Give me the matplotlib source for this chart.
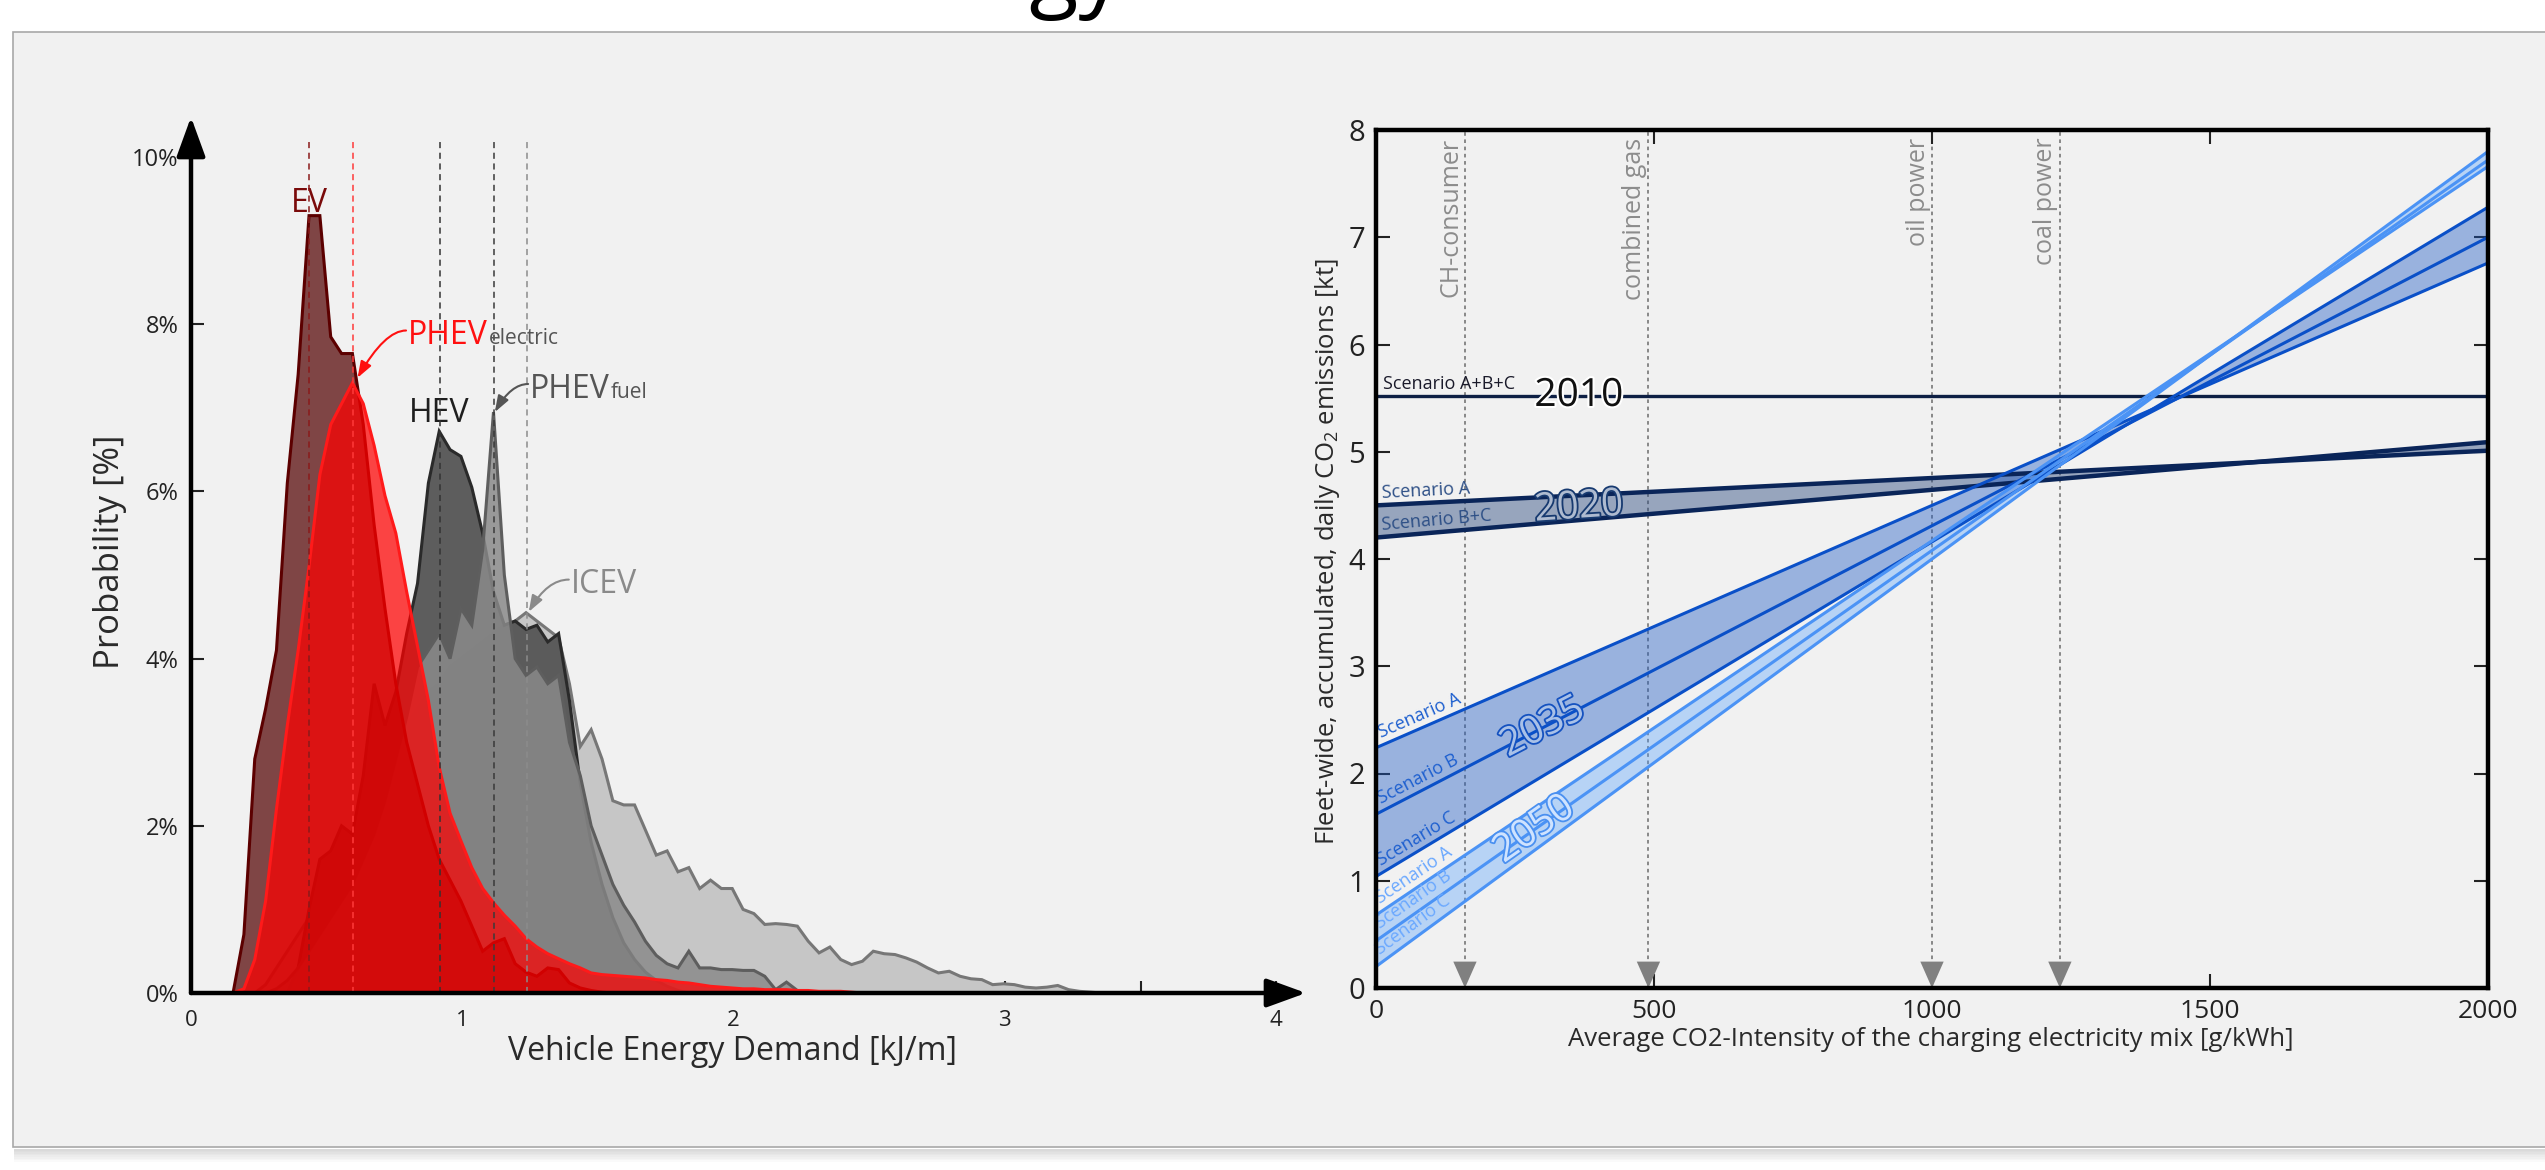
import numpy as np
import matplotlib

matplotlib.use("Agg")
import matplotlib.pyplot as plt
from matplotlib import patheffects as pe
from matplotlib.patches import Rectangle

plt.rcParams['font.family'] = ['Open Sans', 'DejaVu Sans']
plt.rcParams['mathtext.fontset'] = 'custom'
plt.rcParams['mathtext.rm'] = 'Open Sans'
plt.rcParams['mathtext.it'] = 'Open Sans:italic'

# ---------------- left panel: vehicle energy demand histograms ----------------
# share of vehicles [%] per 0.04 kJ/m bin; each list starts at the given bin centre
BIN0, BIN_W = 0.035, 0.04
ev_start = 0.155
ev_pct = [0.0, 0.7, 2.8, 3.4, 4.1, 6.1, 7.4, 9.3, 9.3, 7.85, 7.65, 7.65, 6.8, 5.6,
          4.6, 3.7, 3.0, 2.5, 2.0, 1.6, 1.35, 1.1, 0.8, 0.5, 0.6, 0.65, 0.35, 0.25,
          0.2, 0.3, 0.28, 0.12, 0.06, 0.03, 0.01]
phev_e_start = 0.155
phev_e_pct = [0.0, 0.05, 0.4, 1.1, 2.2, 3.2, 4.1, 5.1, 6.2, 6.8, 7.05, 7.3, 7.05, 6.55,
              5.95, 5.5, 4.8, 4.15, 3.5, 2.7, 2.15, 1.82, 1.5, 1.25, 1.08, 0.93, 0.8,
              0.65, 0.55, 0.47, 0.41, 0.35, 0.3, 0.24, 0.22, 0.21, 0.2, 0.19, 0.18,
              0.16, 0.15, 0.13, 0.12, 0.1, 0.08, 0.07, 0.06, 0.05, 0.05, 0.04, 0.04,
              0.04, 0.03, 0.03, 0.02, 0.02, 0.02, 0.01]
hev_start = 0.355
hev_pct = [0.0, 0.3, 1.0, 1.6, 1.7, 2.0, 1.9, 2.6, 3.7, 3.2, 3.6, 4.3, 4.9, 6.1, 6.72,
           6.5, 6.42, 6.05, 5.5, 4.8, 4.4, 4.45, 4.35, 4.4, 4.2, 4.3, 3.5, 2.5, 1.8,
           1.3, 0.9, 0.6, 0.4, 0.25, 0.15, 0.08, 0.03, 0.0]
phev_f_start = 0.275
phev_f_pct = [0.0, 0.05, 0.15, 0.3, 0.5, 0.7, 0.9, 1.1, 1.3, 1.6, 1.9, 2.3, 2.8, 3.3,
              3.9, 4.1, 4.3, 4.0, 4.6, 4.4, 5.3, 6.95, 5.0, 4.0, 3.8, 3.9, 3.7, 3.8,
              3.0, 2.6, 2.0, 1.65, 1.3, 1.05, 0.85, 0.62, 0.45, 0.35, 0.3, 0.5, 0.3,
              0.3, 0.28, 0.28, 0.27, 0.27, 0.2, 0.04, 0.13, 0.03, 0.0]
icev_start = 0.235
icev_pct = [0.0, 0.1, 0.3, 0.5, 0.7, 0.9, 1.1, 1.3, 1.5, 1.7, 2.0, 2.3, 2.6, 2.9, 3.2,
            3.4, 3.6, 3.7, 3.9, 4.0, 4.1, 4.2, 4.3, 4.4, 4.45, 4.55, 4.45, 4.35, 4.25,
            3.7, 2.95, 3.15, 2.8, 2.3, 2.25, 2.25, 1.95, 1.65, 1.7, 1.45, 1.5, 1.25,
            1.35, 1.25, 1.25, 1.0, 0.95, 0.82, 0.83, 0.82, 0.8, 0.62, 0.48, 0.55,
            0.4, 0.34, 0.38, 0.5, 0.47, 0.46, 0.42, 0.37, 0.3, 0.24, 0.26, 0.2, 0.17,
            0.16, 0.1, 0.11, 0.1, 0.07, 0.06, 0.07, 0.09, 0.04, 0.02, 0.01, 0.0]
# modal energy demand of each vehicle type (dashed markers)
mode_x = [0.435, 0.597, 0.916, 1.118, 1.237]
mode_colors = ['#8a1a1a', '#ff3a3a', '#333333', '#3a3a3a', '#8c8c8c']

# ---------------- right panel: fleet CO2 vs charging-mix intensity ----------------
co2_x = [0, 2000]
y2010 = [5.52, 5.52]
y2020_a = [4.50, 5.01]
y2020_bc = [4.20, 5.09]
y2035_a = [2.24, 6.76]
y2035_b = [1.62, 7.00]
y2035_c = [1.04, 7.28]
y2050_a = [0.68, 7.66]
y2050_b = [0.44, 7.72]
y2050_c = [0.20, 7.80]
ref_x = [160, 490, 1000, 1230]
ref_labels = ['CH-consumer', 'combined gas', 'oil power', 'coal power']

W, H = 2545, 1170


def fx(px):
    return px / W


def fy(py):
    return 1 - py / H


def on_grid(bins, start, vals):
    i0 = int(round((start - BIN0) / BIN_W))
    y = np.zeros(len(bins))
    y[i0:i0 + len(vals)] = vals
    return y


def screen_angle(ax, xs, ys):
    p = ax.transData.transform(np.column_stack([xs, ys]))
    return np.degrees(np.arctan2(p[1, 1] - p[0, 1], p[1, 0] - p[0, 0]))


def line_at(ys, x):
    return np.interp(x, co2_x, ys)


fig = plt.figure(figsize=(W / 100, H / 100), dpi=100, facecolor='white')
renderer = fig.canvas.get_renderer()

# grey card behind both charts, with a soft bottom shadow
fig.patches.append(Rectangle((fx(13), fy(1147)), 1.0, fy(32) - fy(1147),
                             transform=fig.transFigure, facecolor='#f1f1f1',
                             edgecolor='#a8a8a8', lw=1.2, zorder=-5))
for k in range(8):
    fig.patches.append(Rectangle((fx(14), fy(1149 + 1.6 * (k + 1))), 1.0, 1.6 / H,
                                 transform=fig.transFigure, facecolor='#7a7a7a',
                                 alpha=0.28 * (1 - k / 8), lw=0, zorder=-5))

# title sits above the top edge: only its descenders show
fig.text(fx(1255), fy(-1), 'Energy to Emissions', ha='center', va='baseline',
         fontsize=65, color='black')

# ======================= left chart =======================
axL = fig.add_axes([fx(191), fy(993), fx(1306) - fx(191), fy(117) - fy(993)])
axL.set_xlim(0, 4.11)
axL.set_ylim(0, 10.48)
axL.patch.set_alpha(0)
for s in axL.spines.values():
    s.set_visible(False)

bins = np.arange(BIN0, 4.0, BIN_W)
layers = [
    (icev_start, icev_pct, '#c6c6c6', 1.0, '#777777'),
    (hev_start, hev_pct, '#555555', 0.95, '#2a2a2a'),
    (phev_f_start, phev_f_pct, '#8a8a8a', 0.85, '#5e5e5e'),
    (ev_start, ev_pct, '#590c0c', 0.75, '#5c0000'),
    (phev_e_start, phev_e_pct, '#ff0000', 0.72, '#ff1a1a'),
]
for z, (start, vals, fc, a, ec) in enumerate(layers):
    y = on_grid(bins, start, vals)
    axL.fill_between(bins, 0, y, color=fc, alpha=a, lw=0, zorder=2 + z)
    axL.plot(bins, y, color=ec, lw=2.2, zorder=2 + z, solid_joinstyle='miter')

for xm, c in zip(mode_x, mode_colors):
    axL.plot([xm, xm], [0, 10.2], color=c, lw=1.1, dashes=(4, 3), zorder=10)

# axes with arrow heads
for xy in [(1, 0), (0, 1)]:
    axL.annotate('', xy=xy, xytext=(0, 0), xycoords='axes fraction',
                 arrowprops=dict(arrowstyle='-|>,head_length=1.1,head_width=0.4',
                                 color='black', lw=3.2, shrinkA=0, shrinkB=0,
                                 mutation_scale=22),
                 annotation_clip=False, zorder=12)

axL.set_xticks([0, 1, 2, 3, 4])
axL.set_xticks([0.5, 1.5, 2.5, 3.5], minor=True)
axL.set_yticks([0, 2, 4, 6, 8, 10])
axL.set_yticklabels([f'{v}%' for v in [0, 2, 4, 6, 8, 10]])
axL.tick_params(which='both', direction='in', length=9, width=1.5, colors='#222222',
                labelsize=17, pad=9)
axL.tick_params(axis='x', labelsize=16, pad=12)

lab = dict(fontsize=23, ha='center', va='center')
axL.text(0.435, 9.45, 'EV', color='#7a0a0a', **lab)
axL.text(0.915, 6.93, 'HEV', color='#1e1e1e', **lab)


def arrow_label(main, sub, target, pos, color, sub_color):
    """label with a curved arrow from its left side, optional small suffix"""
    t = axL.text(pos[0], pos[1], main, fontsize=23, color=color, ha='left',
                 va='baseline', zorder=14)
    bb = t.get_window_extent(renderer)
    base = axL.transData.transform(pos)[1]
    if sub:
        axL.annotate(sub, xy=(bb.x1 + 1, base), xycoords='figure pixels',
                     fontsize=15, color=sub_color, ha='left', va='baseline', zorder=14)
    axL.annotate('', xy=target, xytext=(bb.x0 - 2, base + 0.42 * bb.height),
                 textcoords='figure pixels', zorder=14,
                 arrowprops=dict(arrowstyle='-|>,head_length=0.7,head_width=0.25',
                                 color=color, lw=1.5, mutation_scale=14,
                                 connectionstyle='angle3,angleA=0,angleB=60',
                                 shrinkA=0, shrinkB=0))


arrow_label('PHEV', 'electric', (0.614, 7.36), (0.80, 7.76), '#ff1010', '#555555')
arrow_label('PHEV', 'fuel', (1.12, 6.95), (1.25, 7.12), '#555555', '#555555')
arrow_label('ICEV', None, (1.245, 4.56), (1.40, 4.78), '#8a8a8a', None)

fig.text(fx(110), fy(552), 'Probability [%]', rotation=90, ha='center', va='center',
         fontsize=25, color='#2a2a2a')
fig.text(fx(733), fy(1052), 'Vehicle Energy Demand [kJ/m]', ha='center', va='center',
         fontsize=23, color='#2a2a2a')

# ======================= right chart =======================
axR = fig.add_axes([fx(1376), fy(988), fx(2488) - fx(1376), fy(130) - fy(988)])
axR.set_xlim(0, 2000)
axR.set_ylim(0, 8)
axR.patch.set_alpha(0)
for s in axR.spines.values():
    s.set_linewidth(3.2)
    s.set_color('black')
    s.set_zorder(20)
axR.set_xticks([0, 500, 1000, 1500, 2000])
axR.set_yticks(range(9))
axR.tick_params(direction='in', length=10, width=1.5, top=True, right=True,
                colors='#222222', labelsize=21, pad=8)
axR.tick_params(axis='x', labelsize=19)

# reference generation technologies
axR.vlines(ref_x, 0, 8, colors='#7f7f7f', linestyles=(0, (2, 2)), lw=1.3, zorder=1)
for xr, name in zip(ref_x, ref_labels):
    axR.annotate('', xy=(xr, 0), xytext=(xr, 0.27),
                 arrowprops=dict(arrowstyle='-|>,head_length=0.95,head_width=0.42',
                                 color='#808080', lw=0, mutation_scale=20,
                                 shrinkA=0, shrinkB=0), zorder=2)
    axR.annotate(name, xy=(xr, 7.93), xytext=(-1, 0), textcoords='offset points',
                 rotation=90, ha='right', va='top', fontsize=18, color='#8c8c8c')

bands = [
    (y2020_a, y2020_bc, '#2b4a7f', 0.45),
    (y2035_a, y2035_c, '#1f5bc4', 0.42),
    (y2050_a, y2050_c, '#4d9bff', 0.35),
]
for z, (lo, hi, c, a) in enumerate(bands):
    axR.fill_between(co2_x, lo, hi, color=c, alpha=a, lw=0, zorder=3 + z)

series = [
    (y2010, '#0d1f44', 2.4, 'Scenario A+B+C', '#1a1a2a'),
    (y2020_a, '#0a2559', 3.2, 'Scenario A', '#2d4f86'),
    (y2020_bc, '#0a2559', 3.2, 'Scenario B+C', '#2d4f86'),
    (y2035_a, '#0a50c8', 2.2, 'Scenario A', '#1d5fcf'),
    (y2035_b, '#0a50c8', 2.2, 'Scenario B', '#1d5fcf'),
    (y2035_c, '#0a50c8', 2.2, 'Scenario C', '#1d5fcf'),
    (y2050_a, '#4b93f5', 2.2, 'Scenario A', '#6aa8ff'),
    (y2050_b, '#4b93f5', 2.2, 'Scenario B', '#6aa8ff'),
    (y2050_c, '#4b93f5', 2.2, 'Scenario C', '#6aa8ff'),
]
for ys, c, lw, name, tc in series:
    axR.plot(co2_x, ys, color=c, lw=lw, zorder=8, solid_capstyle='butt')
    ang = screen_angle(axR, co2_x, ys)
    axR.annotate(name, xy=(12, line_at(ys, 12)), xytext=(0, 2.5),
                 textcoords='offset points', rotation=ang, rotation_mode='anchor',
                 ha='left', va='bottom', fontsize=13, color=tc, zorder=9)

years = [
    ('2010', 365, y2010, None, '#111111', 'white', 3),
    ('2020', 365, None, None, '#aebbd0', '#173a70', 2.6),
    ('2035', 300, y2035_b, y2035_b, '#a9c1e8', '#1552c0', 2.6),
    ('2050', 285, y2050_b, y2050_b, '#cfe3ff', '#4a90f0', 2.6),
]
for txt, xc, ys, rot_ys, fcol, scol, slw in years:
    if txt == '2020':
        yc = 0.5 * (line_at(y2020_a, xc) + line_at(y2020_bc, xc))
        ang = 0.5 * (screen_angle(axR, co2_x, y2020_a) + screen_angle(axR, co2_x, y2020_bc))
    else:
        yc = line_at(ys, xc)
        ang = screen_angle(axR, co2_x, rot_ys) if rot_ys is not None else 0
    axR.text(xc, yc, txt, fontsize=28, color=fcol, ha='center', va='center',
             rotation=ang, rotation_mode='anchor', zorder=15,
             path_effects=[pe.withStroke(linewidth=slw, foreground=scol)])

fig.text(fx(1931), fy(1040),
         'Average CO2-Intensity of the charging electricity mix [g/kWh]',
         ha='center', va='center', fontsize=18.5, color='#2a2a2a')
fig.text(fx(1327), fy(552), 'Fleet-wide, accumulated, daily CO$_2$ emissions [kt]',
         rotation=90, ha='center', va='center', fontsize=18.5, color='#2a2a2a')

fig.savefig('out.png', dpi=100, facecolor='white')
